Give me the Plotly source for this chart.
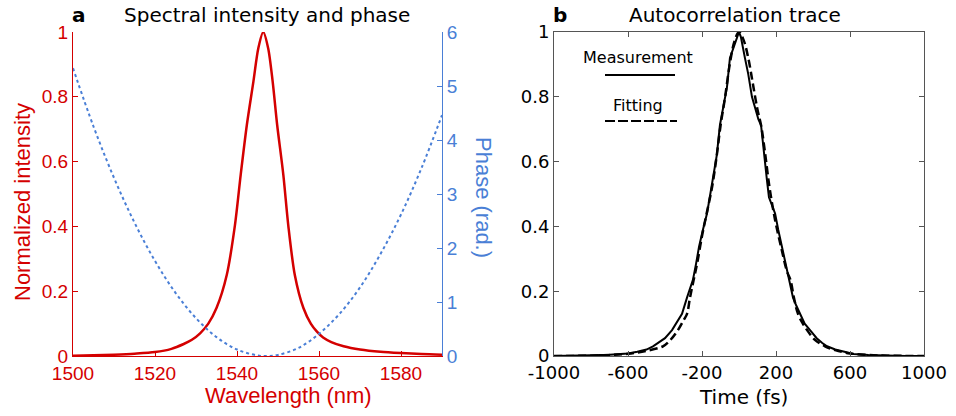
import plotly.graph_objects as go

# ---------------- data ----------------
wl = [1500, 1505, 1510, 1515, 1520, 1524, 1527, 1529, 1531, 1533, 1535, 1537.5, 1539.5, 1540.9,
      1542.4, 1544, 1545.2, 1546.4, 1547.6, 1548.7, 1549.8, 1551.3, 1552.5, 1554.1, 1556.2,
      1558, 1559.5, 1561, 1563, 1566, 1570, 1575, 1580, 1585, 1590]
intensity = [0.001, 0.002, 0.004, 0.007, 0.012, 0.022, 0.037, 0.05, 0.07, 0.10, 0.148, 0.25, 0.404,
             0.559, 0.713, 0.847, 0.95, 1.0, 0.95, 0.847, 0.713, 0.559, 0.404, 0.25, 0.148,
             0.10, 0.075, 0.057, 0.043, 0.03, 0.02, 0.013, 0.009, 0.006, 0.004]

phase_wl = [1500, 1505, 1510, 1515, 1520, 1525, 1530, 1535, 1540, 1545, 1547,
            1550, 1555, 1560, 1565, 1570, 1575, 1580, 1585, 1590]
phase = [5.33, 4.25, 3.30, 2.47, 1.76, 1.17, 0.70, 0.35, 0.12, 0.01, 0.0,
         0.02, 0.15, 0.41, 0.78, 1.27, 1.89, 2.62, 3.48, 4.46]

t_meas = [-1000, -900, -800, -700, -600, -550, -500, -465, -430, -400, -362, -335, -308,
          -281, -265, -249, -232, -216, -195, -173, -158, -141, -120, -103, -85, -65, -49,
          -30, -15, 0, 10, 20, 32, 50, 70, 90, 105, 119, 135, 151, 162, 175, 195, 212, 232,
          250, 270, 292, 310, 330, 355, 384, 420, 450, 476, 520, 570, 620, 700, 800, 900, 1000]
v_meas = [0.0, 0.0, 0.002, 0.004, 0.008, 0.013, 0.02, 0.03, 0.045, 0.055, 0.08, 0.105, 0.13,
          0.18, 0.205, 0.235, 0.285, 0.337, 0.39, 0.44, 0.49, 0.543, 0.62, 0.713, 0.77, 0.83, 0.92,
          0.95, 0.97, 1.0, 0.985, 0.96, 0.92, 0.87, 0.80, 0.76, 0.73, 0.713, 0.62, 0.543, 0.49, 0.47,
          0.44, 0.39, 0.337, 0.29, 0.235, 0.18, 0.155, 0.13, 0.10, 0.08, 0.055, 0.04, 0.03, 0.02,
          0.012, 0.006, 0.003, 0.001, 0.0, 0.0]

t_fit = [-1000, -800, -700, -600, -500, -411, -370, -330, -300, -281, -265, -245, -225, -200,
         -175, -146, -120, -100, -75, -50, -25, 0, 25, 50, 75, 100, 120, 140, 165, 195, 230,
         260, 278, 297, 319, 345, 368, 410, 465, 520, 600, 700, 800, 1000]
v_fit = [0.0, 0.001, 0.003, 0.007, 0.016, 0.03, 0.05, 0.08, 0.11, 0.13, 0.18, 0.235, 0.29, 0.37,
         0.44, 0.52, 0.62, 0.71, 0.80, 0.90, 0.97, 1.0, 0.975, 0.92, 0.84, 0.76, 0.71, 0.63, 0.52,
         0.42, 0.33, 0.26, 0.235, 0.18, 0.13, 0.10, 0.08, 0.05, 0.03, 0.018, 0.008, 0.003, 0.001, 0.0]

wl_ticks = [1500, 1520, 1540, 1560, 1580]
int_ticks = [0, 0.2, 0.4, 0.6, 0.8, 1]
int_ticktext = ["0", "0.2", "0.4", "0.6", "0.8", "1"]
phase_ticks = [0, 1, 2, 3, 4, 5, 6]
t_ticks = [-1000, -600, -200, 200, 600, 1000]
t_ticktext = ["-1000", "-600", "-200", "200", "600", "1000"]

# ---------------- styling ----------------
RED = "#d40000"
BLUE = "#4a7fd6"
GRAY = "#555555"
ARIAL = "Liberation Sans, Arial, sans-serif"
VERD = "DejaVu Sans, Verdana, sans-serif"

W, H = 956, 416
def px(x):
    return x / W
def py(y):
    return 1 - y / H

XA = [px(73), px(442)]
XB = [px(554), px(924)]
YD = [py(356), py(32)]

fig = go.Figure()

fig.add_trace(go.Scatter(x=wl, y=intensity, xaxis="x", yaxis="y", mode="lines",
                         line=dict(color=RED, width=2.5, shape="spline", smoothing=0.8),
                         showlegend=False))
fig.add_trace(go.Scatter(x=phase_wl, y=phase, xaxis="x", yaxis="y2", mode="lines",
                         line=dict(color=BLUE, width=2, dash="3px,3px", shape="spline"),
                         showlegend=False))

fig.add_trace(go.Scatter(x=t_meas, y=v_meas, xaxis="x4", yaxis="y4", mode="lines",
                         line=dict(color="black", width=2), showlegend=False))
fig.add_trace(go.Scatter(x=t_fit, y=v_fit, xaxis="x4", yaxis="y4", mode="lines",
                         line=dict(color="black", width=2.5, dash="8px,4px", shape="spline"),
                         showlegend=False))

common = dict(showgrid=False, zeroline=False, ticks="inside", ticklen=5, showline=True,
              linewidth=1, fixedrange=True, automargin=False)

fig.update_layout(
    template="none",
    width=W, height=H, margin=dict(l=0, r=0, t=0, b=0, autoexpand=False),
    paper_bgcolor="white", plot_bgcolor="white", showlegend=False,
    xaxis=dict(domain=XA, anchor="y", range=[1500, 1590], tickvals=wl_ticks,
               linecolor=RED, tickcolor=RED, tickfont=dict(family=ARIAL, size=19, color=RED),
               **common),
    xaxis3=dict(overlaying="x", side="top", anchor="y", range=[1500, 1590], tickvals=wl_ticks,
                showticklabels=False, linecolor=BLUE, tickcolor=BLUE, **common),
    yaxis=dict(domain=YD, anchor="x", range=[0, 1], tickvals=int_ticks, ticktext=int_ticktext,
               linecolor=RED, tickcolor=RED, tickfont=dict(family=ARIAL, size=19, color=RED),
               **common),
    yaxis2=dict(overlaying="y", side="right", anchor="x", range=[0, 6], tickvals=phase_ticks,
                linecolor=BLUE, tickcolor=BLUE, tickfont=dict(family=ARIAL, size=19, color=BLUE),
                **common),
    xaxis4=dict(domain=XB, anchor="y4", range=[-1000, 1000], tickvals=t_ticks, ticktext=t_ticktext,
                mirror="ticks", linecolor=GRAY, tickcolor=GRAY,
                tickfont=dict(family=VERD, size=18, color="black"), **common),
    yaxis4=dict(domain=YD, anchor="x4", range=[0, 1], tickvals=int_ticks, ticktext=int_ticktext,
                mirror="ticks", linecolor=GRAY, tickcolor=GRAY,
                tickfont=dict(family=VERD, size=18, color="black"), **common),
)

ann = [
    dict(x=px(267), y=py(15), text="Spectral intensity and phase", font=dict(family=VERD, size=20, color="black")),
    dict(x=px(79), y=py(15), text="<b>a</b>", font=dict(family=VERD, size=20, color="black")),
    dict(x=px(735), y=py(15), text="Autocorrelation trace", font=dict(family=VERD, size=20, color="black")),
    dict(x=px(560), y=py(15), text="<b>b</b>", font=dict(family=VERD, size=20, color="black")),
    dict(x=px(22), y=py(202), text="Normalized intensity", textangle=-90, font=dict(family=ARIAL, size=22, color=RED)),
    dict(x=px(484), y=py(197), text="Phase (rad.)", textangle=90, font=dict(family=ARIAL, size=22, color=BLUE)),
    dict(x=px(288), y=py(395), text="Wavelength (nm)", font=dict(family=ARIAL, size=22, color=RED)),
    dict(x=px(743), y=py(397), text="Time (fs)", font=dict(family=VERD, size=20, color="black")),
    dict(x=px(638), y=py(57), text="Measurement", font=dict(family=VERD, size=16, color="black")),
    dict(x=px(638), y=py(105), text="Fitting", font=dict(family=VERD, size=16, color="black")),
]
for a in ann:
    a.update(xref="paper", yref="paper", showarrow=False, xanchor="center", yanchor="middle")
fig.update_layout(annotations=ann)

fig.update_layout(shapes=[
    dict(type="line", xref="paper", yref="paper", x0=px(605), x1=px(675), y0=py(75), y1=py(75),
         line=dict(color="black", width=2)),
    dict(type="line", xref="paper", yref="paper", x0=px(605), x1=px(677), y0=py(121), y1=py(121),
         line=dict(color="black", width=2, dash="10px,3px")),
])

fig.write_html("out.html", config={"displayModeBar": False},
               post_script="document.body.style.margin='0';document.body.style.overflow='hidden';")
